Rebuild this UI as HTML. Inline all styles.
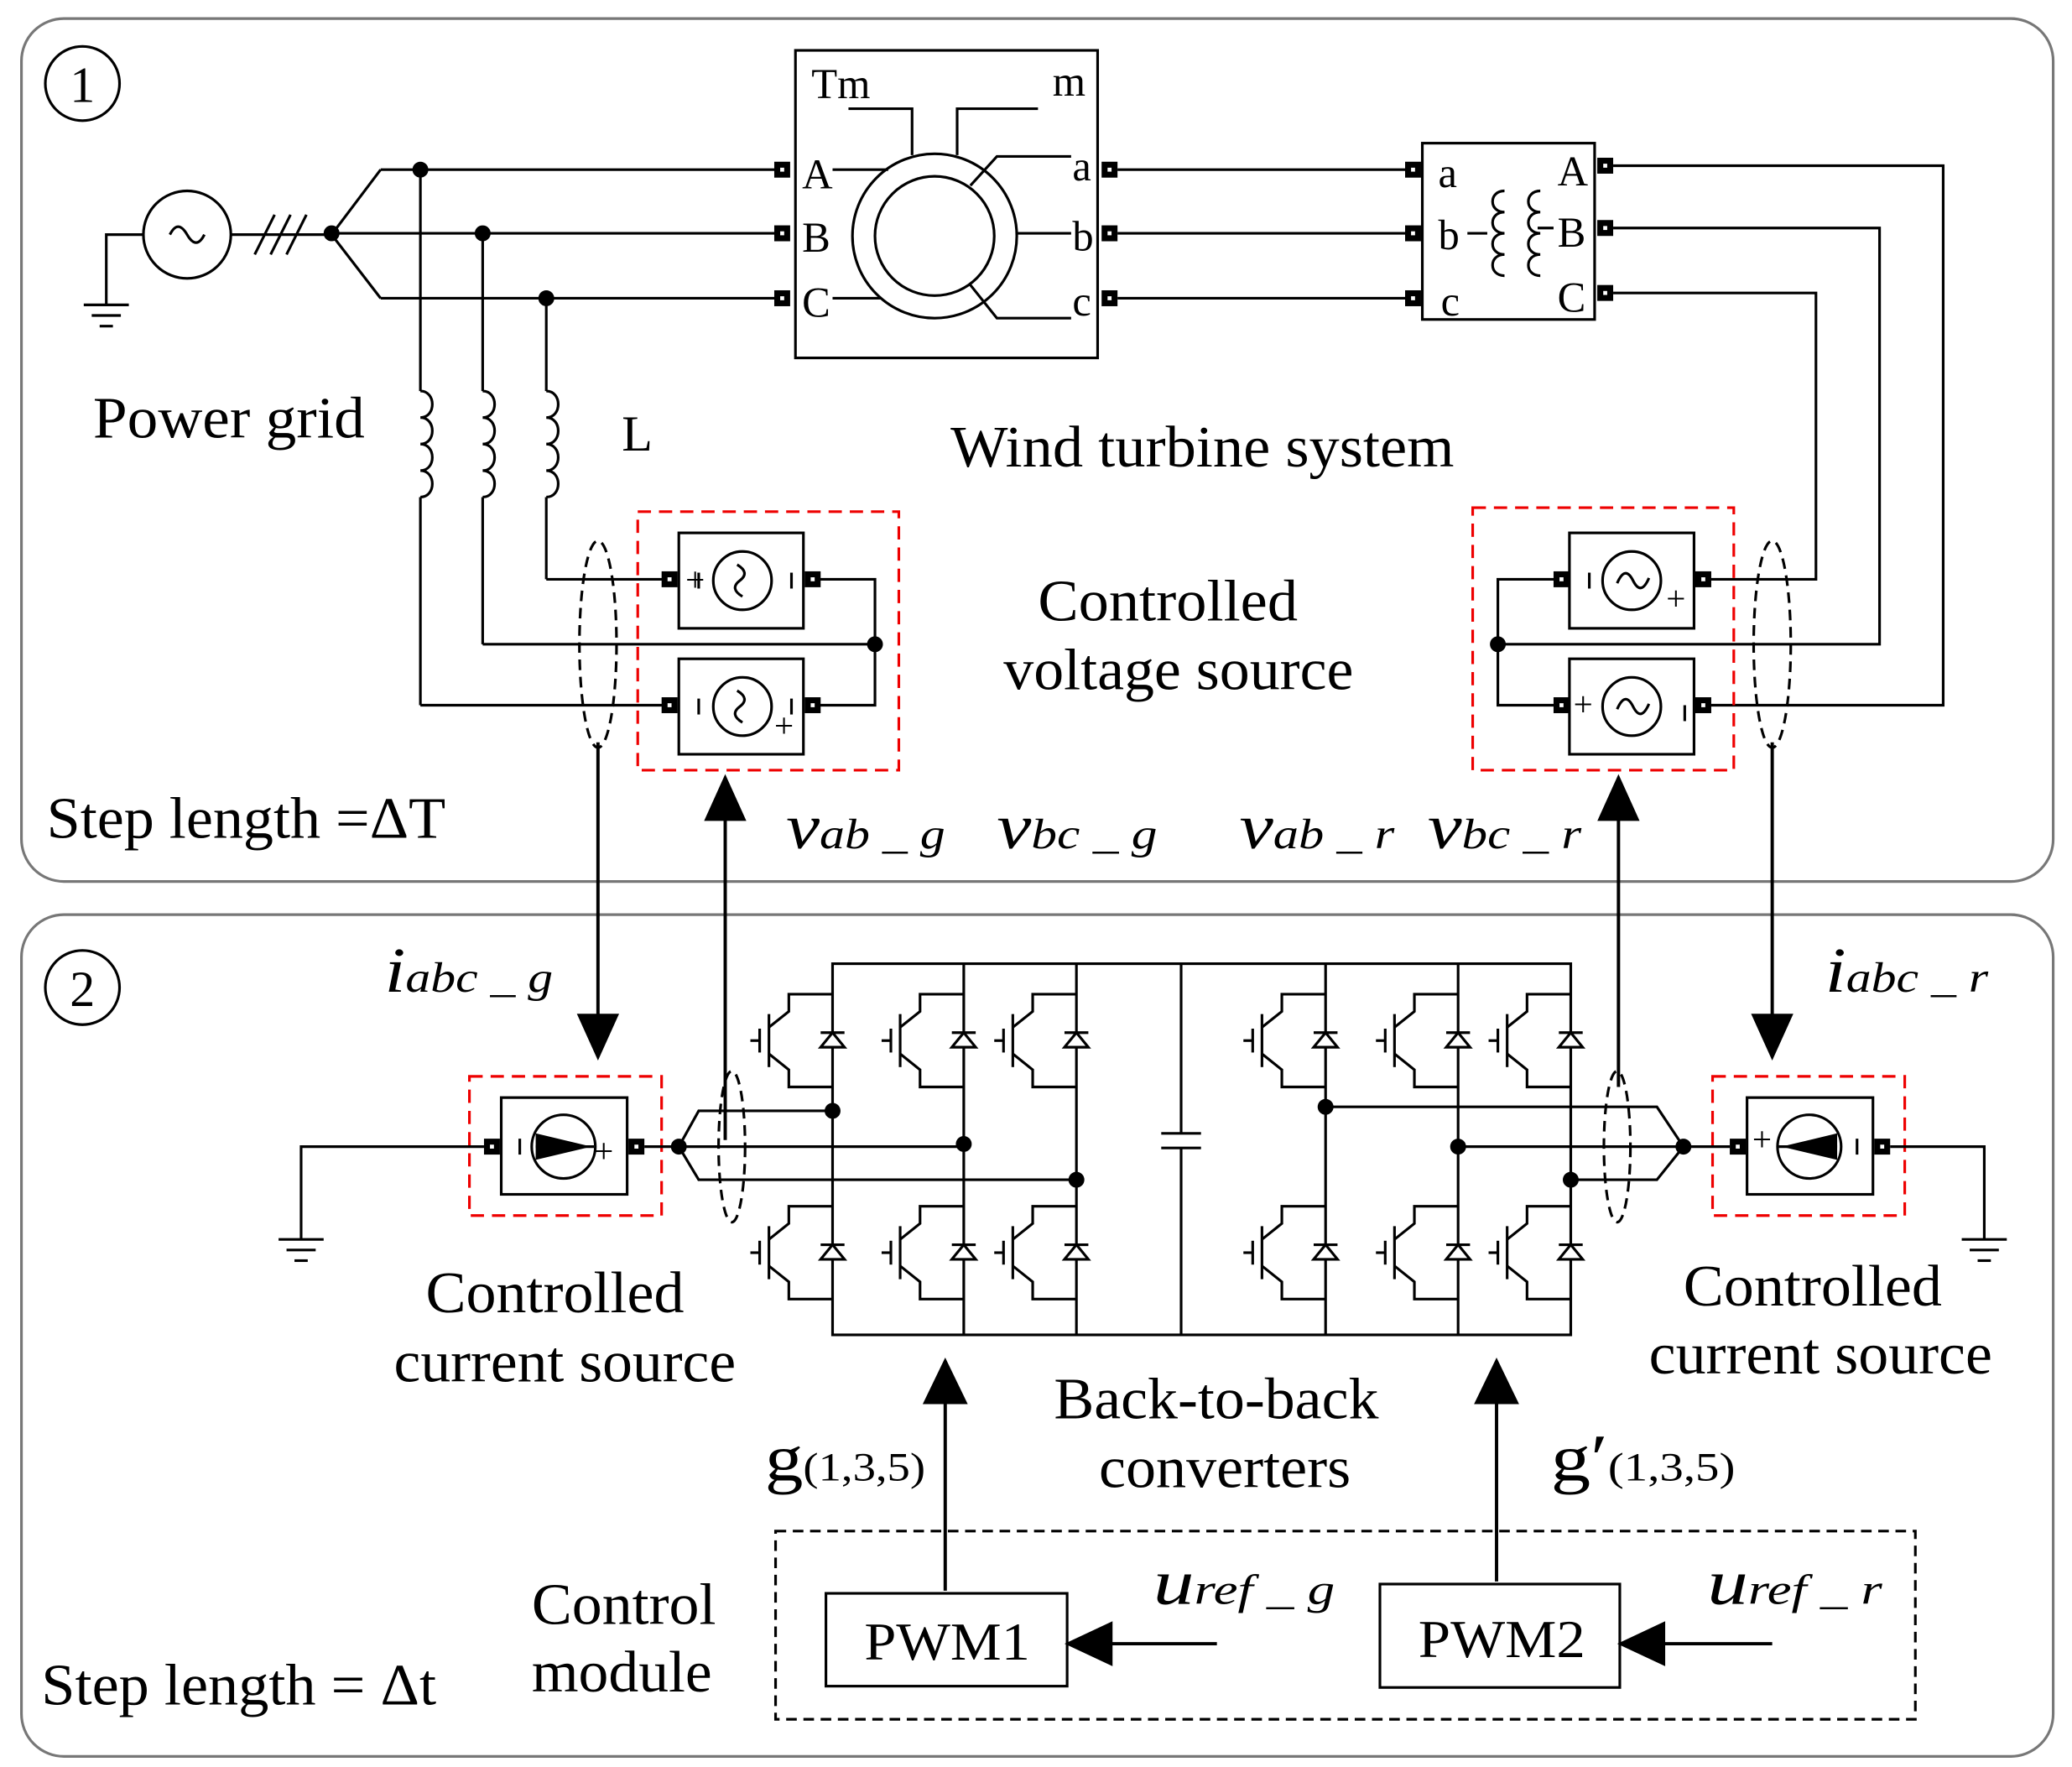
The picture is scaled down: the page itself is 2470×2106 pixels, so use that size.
<!DOCTYPE html>
<html><head><meta charset="utf-8"><style>
html,body{margin:0;padding:0;background:#fff}
svg{display:block}
text{font-family:"Liberation Serif",serif;fill:#000}
.it{font-style:italic}
</style></head><body>
<svg width="2470" height="2106" viewBox="0 0 1563 1333" xmlns="http://www.w3.org/2000/svg">
<defs>
<g id="igbt" stroke="#000" stroke-width="2" fill="none">
<line x1="-62" y1="0" x2="-55" y2="0"/>
<line x1="-55" y1="-9" x2="-55" y2="9"/>
<line x1="-48" y1="-20" x2="-48" y2="20"/>
<polyline points="-48,-10 -33,-22 -33,-35 0,-35"/>
<polyline points="-48,10 -33,22 -33,35 0,35"/>
<polygon points="-9,5 9,5 0,-6" fill="#fff"/>
<line x1="-9" y1="-6" x2="9" y2="-6"/>
</g>
<g id="term"><rect x="-6" y="-6" width="12" height="12" fill="#000"/><rect x="-1.5" y="-1.5" width="3" height="3" fill="#fff"/></g>
<g id="gnd" stroke="#000" stroke-width="2"><line x1="-17" y1="0" x2="17" y2="0"/><line x1="-11" y1="8" x2="11" y2="8"/><line x1="-5" y1="16" x2="5" y2="16"/></g>
<path id="coil" d="M0,0 c12,0 12,20 0,20 c12,0 12,20 0,20 c12,0 12,20 0,20 c12,0 12,20 0,20" fill="none" stroke="#000" stroke-width="2"/>
</defs>

<rect x="16" y="14" width="1533" height="651" rx="32" fill="none" stroke="#777" stroke-width="2"/>
<rect x="16" y="690" width="1533" height="635" rx="32" fill="none" stroke="#777" stroke-width="2"/>
<circle cx="62" cy="63" r="28" fill="none" stroke="#000" stroke-width="2"/>
<text x="62" y="77" font-size="38" text-anchor="middle">1</text>
<circle cx="62" cy="745" r="28" fill="none" stroke="#000" stroke-width="2"/>
<text x="62" y="759" font-size="38" text-anchor="middle">2</text>

<g stroke="#000" stroke-width="2" fill="none">
<polyline points="80,230 80,177 108,177"/>
<circle cx="141" cy="177" r="33"/>
<path d="M128,177 q6,-12 13,0 q7,12 13,0"/>
<line x1="174" y1="177" x2="250" y2="177"/>
<line x1="192" y1="192" x2="207" y2="162"/><line x1="204" y1="192" x2="219" y2="162"/><line x1="216" y1="192" x2="231" y2="162"/>
<polyline points="287,128 250,177 287,225"/>
<line x1="287" y1="128" x2="590" y2="128"/>
<line x1="250" y1="176" x2="590" y2="176"/>
<line x1="287" y1="225" x2="590" y2="225"/>
<line x1="317" y1="128" x2="317" y2="295"/><line x1="317" y1="375" x2="317" y2="532"/><line x1="317" y1="532" x2="505" y2="532"/>
<line x1="364" y1="176" x2="364" y2="295"/><line x1="364" y1="375" x2="364" y2="486"/><line x1="364" y1="486" x2="660" y2="486"/>
<line x1="412" y1="225" x2="412" y2="295"/><line x1="412" y1="375" x2="412" y2="437"/><line x1="412" y1="437" x2="505" y2="437"/>
<rect x="600" y="38" width="228" height="232"/>
<circle cx="705" cy="178" r="62"/><circle cx="705" cy="178" r="45"/>
<polyline points="640,82 688,82 688,117"/>
<polyline points="783,82 722,82 722,117"/>
<line x1="628" y1="128" x2="670" y2="128"/>
<line x1="628" y1="225" x2="665" y2="225"/>
<polyline points="732,140 752,118 808,118"/>
<polyline points="732,215 752,240 808,240"/>
<line x1="767" y1="176" x2="808" y2="176"/>
<line x1="843" y1="128" x2="1060" y2="128"/>
<line x1="843" y1="176" x2="1060" y2="176"/>
<line x1="843" y1="225" x2="1060" y2="225"/>
<rect x="1073" y="108" width="130" height="133"/>
<line x1="1107" y1="176" x2="1122" y2="176"/>
<path d="M1135,144 c-12,0 -12,16 0,16 c-12,0 -12,16 0,16 c-12,0 -12,16 0,16 c-12,0 -12,16 0,16"/>
<path d="M1162,144 c-12,0 -12,16 0,16 c-12,0 -12,16 0,16 c-12,0 -12,16 0,16 c-12,0 -12,16 0,16"/>
<line x1="1160" y1="172" x2="1172" y2="172"/>
<polyline points="1217,125 1466,125 1466,532 1285,532"/>
<polyline points="1217,172 1418,172 1418,486 1130,486"/>
<polyline points="1217,221 1370,221 1370,437 1285,437"/>
<rect x="512" y="402" width="94" height="72"/><rect x="512" y="497" width="94" height="72"/>
<circle cx="560" cy="438" r="22"/><circle cx="560" cy="533" r="22"/>
<path d="M556,426 q10,6 2,12 q-8,6 2,12"/><path d="M556,521 q10,6 2,12 q-8,6 2,12"/>
<line x1="527" y1="432" x2="527" y2="444"/><line x1="597" y1="432" x2="597" y2="444"/>
<line x1="527" y1="527" x2="527" y2="539"/><line x1="597" y1="527" x2="597" y2="539"/>
<polyline points="613,437 660,437 660,532 613,532"/>
<rect x="1184" y="402" width="94" height="72"/><rect x="1184" y="497" width="94" height="72"/>
<circle cx="1231" cy="438" r="22"/><circle cx="1231" cy="533" r="22"/>
<path d="M1220,440 q6,-14 12,-2 q6,12 12,-2"/><path d="M1220,535 q6,-14 12,-2 q6,12 12,-2"/>
<line x1="1199" y1="432" x2="1199" y2="444"/><line x1="1271" y1="532" x2="1271" y2="544"/>
<polyline points="1178,437 1130,437 1130,532 1178,532"/>
</g>
<g fill="none" stroke="#000" stroke-width="2" stroke-dasharray="8,5">
<ellipse cx="451" cy="486" rx="14" ry="78"/><ellipse cx="1337" cy="486" rx="14" ry="78"/>
<ellipse cx="552" cy="865" rx="10" ry="57"/><ellipse cx="1220" cy="865" rx="10" ry="57"/>
<rect x="585" y="1155" width="860" height="142"/>
</g>
<g fill="none" stroke="#e00" stroke-width="2" stroke-dasharray="10,6">
<rect x="481" y="386" width="197" height="195"/><rect x="1111" y="383" width="197" height="198"/>
<rect x="354" y="812" width="145" height="105"/><rect x="1292" y="812" width="145" height="105"/>
</g>
<use href="#coil" x="317" y="295"/><use href="#coil" x="364" y="295"/><use href="#coil" x="412" y="295"/>
<use href="#gnd" x="80" y="230"/>
<g fill="#000"><circle cx="250" cy="176" r="6"/><circle cx="317" cy="128" r="6"/><circle cx="364" cy="176" r="6"/><circle cx="412" cy="225" r="6"/><circle cx="660" cy="486" r="6"/><circle cx="1130" cy="486" r="6"/></g>
<use href="#term" x="590" y="128"/><use href="#term" x="590" y="176"/><use href="#term" x="590" y="225"/>
<use href="#term" x="837" y="128"/><use href="#term" x="837" y="176"/><use href="#term" x="837" y="225"/>
<use href="#term" x="1066" y="128"/><use href="#term" x="1066" y="176"/><use href="#term" x="1066" y="225"/>
<use href="#term" x="1211" y="125"/><use href="#term" x="1211" y="172"/><use href="#term" x="1211" y="221"/>
<use href="#term" x="505" y="437"/><use href="#term" x="613" y="437"/><use href="#term" x="505" y="532"/><use href="#term" x="613" y="532"/>
<use href="#term" x="1178" y="437"/><use href="#term" x="1285" y="437"/><use href="#term" x="1178" y="532"/><use href="#term" x="1285" y="532"/>

<g stroke="#000" stroke-width="2.5" fill="#000">
<line x1="451" y1="560" x2="451" y2="768"/><polygon points="437,766 465,766 451,797"/>
<line x1="1337" y1="560" x2="1337" y2="768"/><polygon points="1323,766 1351,766 1337,797"/>
<line x1="547" y1="860" x2="547" y2="615"/><polygon points="533,618 561,618 547,587"/>
<line x1="1221" y1="820" x2="1221" y2="615"/><polygon points="1207,618 1235,618 1221,587"/>
<line x1="713" y1="1200" x2="713" y2="1055"/><polygon points="698,1058 728,1058 713,1027"/>
<line x1="1129" y1="1193" x2="1129" y2="1055"/><polygon points="1114,1058 1144,1058 1129,1027"/>
<line x1="918" y1="1240" x2="835" y2="1240"/><polygon points="838,1225 838,1255 806,1240"/>
<line x1="1337" y1="1240" x2="1252" y2="1240"/><polygon points="1255,1225 1255,1255 1223,1240"/>
</g>

<g stroke="#000" stroke-width="2" fill="none">
<rect x="378" y="828" width="95" height="73"/><circle cx="425" cy="865" r="24"/>
<line x1="392" y1="859" x2="392" y2="871"/>
<polyline points="227,935 227,865 365,865"/>
<line x1="486" y1="865" x2="512" y2="865"/>
<polyline points="628,838 527,838 512,865 527,890 812,890"/>
<line x1="512" y1="865" x2="727" y2="865"/>
<rect x="1318" y="828" width="95" height="73"/><circle cx="1365" cy="865" r="24"/>
<line x1="1401" y1="859" x2="1401" y2="871"/>
<polyline points="1426,865 1497,865 1497,935"/>
<line x1="1270" y1="865" x2="1305" y2="865"/>
<polyline points="1000,835 1250,835 1270,865 1250,890 1185,890"/>
<line x1="1100" y1="865" x2="1270" y2="865"/>
<rect x="628" y="727" width="557" height="280"/>
<line x1="727" y1="727" x2="727" y2="1007"/><line x1="812" y1="727" x2="812" y2="1007"/>
<line x1="1000" y1="727" x2="1000" y2="1007"/><line x1="1100" y1="727" x2="1100" y2="1007"/>
<line x1="891" y1="727" x2="891" y2="855"/><line x1="891" y1="866" x2="891" y2="1007"/>
<line x1="876" y1="855" x2="906" y2="855"/><line x1="876" y1="866" x2="906" y2="866"/>
<rect x="623" y="1202" width="182" height="70"/><rect x="1041" y="1195" width="181" height="78"/>
</g>
<path d="M404,855 L446,865 L404,875 z" fill="#000"/><line x1="404" y1="865" x2="448" y2="865" stroke="#000" stroke-width="2"/>
<path d="M1386,855 L1344,865 L1386,875 z" fill="#000"/><line x1="1342" y1="865" x2="1386" y2="865" stroke="#000" stroke-width="2"/>
<use href="#gnd" x="227" y="935"/><use href="#gnd" x="1497" y="935"/>
<use href="#term" x="371" y="865"/><use href="#term" x="480" y="865"/><use href="#term" x="1311" y="865"/><use href="#term" x="1420" y="865"/>
<use href="#igbt" x="628" y="785"/><use href="#igbt" x="727" y="785"/><use href="#igbt" x="812" y="785"/>
<use href="#igbt" x="1000" y="785"/><use href="#igbt" x="1100" y="785"/><use href="#igbt" x="1185" y="785"/>
<use href="#igbt" x="628" y="945"/><use href="#igbt" x="727" y="945"/><use href="#igbt" x="812" y="945"/>
<use href="#igbt" x="1000" y="945"/><use href="#igbt" x="1100" y="945"/><use href="#igbt" x="1185" y="945"/>
<g fill="#000"><circle cx="512" cy="865" r="6"/><circle cx="628" cy="838" r="6"/><circle cx="727" cy="863" r="6"/><circle cx="812" cy="890" r="6"/>
<circle cx="1000" cy="835" r="6"/><circle cx="1100" cy="865" r="6"/><circle cx="1185" cy="890" r="6"/><circle cx="1270" cy="865" r="6"/></g>

<g font-size="32">
<text x="612" y="74">Tm</text><text x="794" y="72">m</text>
<text x="605" y="142">A</text><text x="605" y="190">B</text><text x="605" y="239">C</text>
<text x="809" y="136">a</text><text x="809" y="189">b</text><text x="809" y="238">c</text>
<text x="1085" y="141">a</text><text x="1085" y="188">b</text><text x="1087" y="238">c</text>
<text x="1175" y="140">A</text><text x="1175" y="186">B</text><text x="1175" y="235">C</text>
<text x="517" y="446" font-size="26">+</text><text x="584" y="556" font-size="26">+</text>
<text x="1257" y="460" font-size="26">+</text><text x="1187" y="540" font-size="26">+</text>
<text x="448" y="877" font-size="26">+</text><text x="1322" y="868" font-size="26">+</text>
</g>
<g font-size="44" lengthAdjust="spacingAndGlyphs">
<text x="70" y="330" textLength="205" lengthAdjust="spacingAndGlyphs">Power grid</text>
<text x="469" y="340" font-size="38">L</text>
<text x="717" y="352" textLength="380" lengthAdjust="spacingAndGlyphs">Wind turbine system</text>
<text x="783" y="468" textLength="196" lengthAdjust="spacingAndGlyphs">Controlled</text>
<text x="757" y="520" textLength="264" lengthAdjust="spacingAndGlyphs">voltage source</text>
<text x="35" y="632" textLength="301" lengthAdjust="spacingAndGlyphs">Step length =ΔT</text>
<text x="321" y="990" textLength="195" lengthAdjust="spacingAndGlyphs">Controlled</text>
<text x="297" y="1042" textLength="258" lengthAdjust="spacingAndGlyphs">current source</text>
<text x="1270" y="985" textLength="195" lengthAdjust="spacingAndGlyphs">Controlled</text>
<text x="1244" y="1036" textLength="259" lengthAdjust="spacingAndGlyphs">current source</text>
<text x="795" y="1070" textLength="245" lengthAdjust="spacingAndGlyphs">Back-to-back</text>
<text x="829" y="1122" textLength="190" lengthAdjust="spacingAndGlyphs">converters</text>
<text x="401" y="1225" textLength="139" lengthAdjust="spacingAndGlyphs">Control</text>
<text x="401" y="1276" textLength="136" lengthAdjust="spacingAndGlyphs">module</text>
<text x="31" y="1286" textLength="298" lengthAdjust="spacingAndGlyphs">Step length = Δt</text>
<text x="652" y="1252" font-size="40" textLength="125" lengthAdjust="spacingAndGlyphs">PWM1</text>
<text x="1070" y="1250" font-size="40" textLength="126" lengthAdjust="spacingAndGlyphs">PWM2</text>
</g>
<g class="it">
<text x="593" y="640" font-size="48" textLength="120" lengthAdjust="spacingAndGlyphs">v<tspan font-size="32">ab _ g</tspan></text>
<text x="752" y="640" font-size="48" textLength="121" lengthAdjust="spacingAndGlyphs">v<tspan font-size="32">bc _ g</tspan></text>
<text x="935" y="640" font-size="48" textLength="117" lengthAdjust="spacingAndGlyphs">v<tspan font-size="32">ab _ r</tspan></text>
<text x="1077" y="640" font-size="48" textLength="116" lengthAdjust="spacingAndGlyphs">v<tspan font-size="32">bc _ r</tspan></text>
<text x="290" y="748" font-size="48" textLength="127" lengthAdjust="spacingAndGlyphs">i<tspan font-size="32">abc _ g</tspan></text>
<text x="1377" y="748" font-size="48" textLength="123" lengthAdjust="spacingAndGlyphs">i<tspan font-size="32">abc _ r</tspan></text>
<text x="870" y="1210" font-size="48" textLength="137" lengthAdjust="spacingAndGlyphs">u<tspan font-size="32">ref _ g</tspan></text>
<text x="1288" y="1210" font-size="48" textLength="132" lengthAdjust="spacingAndGlyphs">u<tspan font-size="32">ref _ r</tspan></text>
</g>
<text x="577" y="1117" font-size="50" textLength="121" lengthAdjust="spacingAndGlyphs">g<tspan font-size="30">(1,3,5)</tspan></text>
<text x="1170" y="1117" font-size="50" textLength="139" lengthAdjust="spacingAndGlyphs">g′<tspan font-size="30">(1,3,5)</tspan></text>
</svg>
</body></html>
